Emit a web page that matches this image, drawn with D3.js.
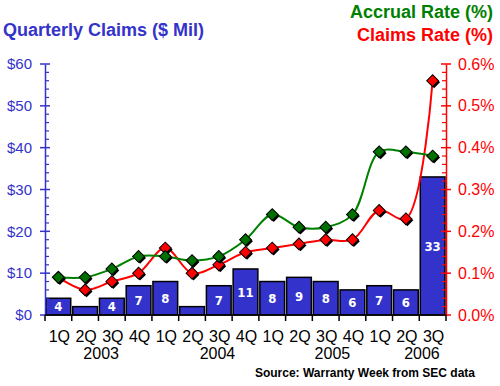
<!DOCTYPE html>
<html>
<head>
<meta charset="utf-8">
<script src="https://cdn.jsdelivr.net/npm/d3@7"></script>
<style>
  html, body { margin: 0; padding: 0; background: #fff; }
  svg { display: block; font-family: "Liberation Sans", Arial, sans-serif; }
</style>
</head>
<body>
<svg id="chart" width="500" height="386"></svg>
<script>
// quarterly data, 1Q 2003 .. 3Q 2006
const quarters = ['1Q', '2Q', '3Q', '4Q', '1Q', '2Q', '3Q', '4Q', '1Q', '2Q', '3Q', '4Q', '1Q', '2Q', '3Q'];
const years = ['2003', '2004', '2005', '2006'];
const claims = [4, 2, 4, 7, 8, 2, 7, 11, 8, 9, 8, 6, 7, 6, 33];          // $ mil
const accrualRate = [0.09, 0.09, 0.11, 0.14, 0.14, 0.13, 0.14, 0.18, 0.24, 0.21, 0.21, 0.24, 0.39, 0.39, 0.38]; // %
const claimsRate = [0.09, 0.06, 0.08, 0.10, 0.16, 0.10, 0.12, 0.15, 0.16, 0.17, 0.18, 0.18, 0.25, 0.23, 0.56];  // %
const dollarTicks = [0, 10, 20, 30, 40, 50, 60];
const pctTicks = [0, 0.1, 0.2, 0.3, 0.4, 0.5, 0.6];

const BLUE = '#3333cc', GREEN = '#008000', RED = '#ff0000';
const plot = { left: 45, right: 446, top: 64, bottom: 315 };
// where the year captions sit, in category units from the left edge
const yearSlots = [2.1, 6.45, 10.75, 14.1];

const svg = d3.select('#chart');
const idx = d3.range(quarters.length);

const x = d3.scaleBand().domain(idx).range([plot.left, plot.right]).padding(0);
const xPos = d3.scaleLinear().domain([0, quarters.length]).range([plot.left, plot.right]);
const yL = d3.scaleLinear().domain([0, 60]).range([plot.bottom, plot.top]);
const yR = d3.scaleLinear().domain([0, 0.6]).range([plot.bottom, plot.top]);
const cx = i => x(i) + x.bandwidth() / 2;

// titles
svg.append('text').attr('x', 3).attr('y', 36)
  .attr('font-size', 18).attr('font-weight', 'bold').attr('fill', BLUE)
  .text('Quarterly Claims ($ Mil)');
svg.append('text').attr('x', 493).attr('y', 18).attr('text-anchor', 'end')
  .attr('font-size', 18).attr('font-weight', 'bold').attr('fill', GREEN)
  .text('Accrual Rate (%)');
svg.append('text').attr('x', 493).attr('y', 41).attr('text-anchor', 'end')
  .attr('font-size', 18).attr('font-weight', 'bold').attr('fill', RED)
  .text('Claims Rate (%)');

// bars
const bars = svg.append('g');
bars.selectAll('rect').data(claims).join('rect')
  .attr('x', (d, i) => x(i) + 1)
  .attr('width', x.bandwidth() - 2)
  .attr('y', d => yL(d))
  .attr('height', d => yL(0) - yL(d))
  .attr('fill', BLUE)
  .attr('stroke', '#000')
  .attr('stroke-width', 1.5);

// the two tiny bars carry no value label
const labelled = claims.map((v, i) => ({ v, i })).filter(d => d.v > 3);
bars.selectAll('text').data(labelled).join('text')
  .attr('x', d => cx(d.i))
  .attr('y', d => (yL(d.v) + yL(0)) / 2)
  .attr('dy', '0.36em')
  .attr('text-anchor', 'middle')
  .attr('font-family', '"Liberation Sans Narrow", "Arial Narrow", "DejaVu Sans Condensed", sans-serif')
  .attr('font-size', 13).attr('font-weight', 'bold').attr('fill', '#fff')
  .text(d => d.v);

// left axis
const leftAxis = svg.append('g').attr('transform', `translate(${plot.left},0)`);
leftAxis.call(d3.axisLeft(yL).tickValues(dollarTicks).tickSize(0).tickFormat(d => '$' + d))
  .call(g => g.select('.domain').attr('stroke', BLUE).attr('stroke-width', 1.5))
  .call(g => g.selectAll('.tick text').attr('x', -13).attr('fill', BLUE)
    .attr('font-size', 15).attr('font-family', '"Liberation Sans", Arial, sans-serif'));
leftAxis.selectAll('.major').data(dollarTicks).join('line')
  .attr('x1', -5).attr('x2', 5).attr('y1', d => yL(d)).attr('y2', d => yL(d))
  .attr('stroke', BLUE).attr('stroke-width', 1.5);
leftAxis.selectAll('.minor').data(d3.range(0, 60, 2).filter(v => v % 10)).join('line')
  .attr('x1', 0).attr('x2', 4).attr('y1', d => yL(d)).attr('y2', d => yL(d))
  .attr('stroke', BLUE).attr('stroke-width', 1.2);

// right axis
const rightAxis = svg.append('g').attr('transform', `translate(${plot.right},0)`);
rightAxis.call(d3.axisRight(yR).tickValues(pctTicks).tickSize(0).tickFormat(d => d3.format('.1f')(d) + '%'))
  .call(g => g.select('.domain').attr('stroke', RED).attr('stroke-width', 1.5))
  .call(g => g.selectAll('.tick text').attr('x', 12).attr('fill', RED)
    .attr('font-size', 16).attr('font-family', '"Liberation Sans", Arial, sans-serif'));
rightAxis.selectAll('.major').data(pctTicks).join('line')
  .attr('x1', -5).attr('x2', 5).attr('y1', d => yR(d)).attr('y2', d => yR(d))
  .attr('stroke', RED).attr('stroke-width', 1.5);
rightAxis.selectAll('.minor').data(d3.range(0, 60, 2).filter(v => v % 10).map(v => v / 100)).join('line')
  .attr('x1', -4).attr('x2', 0).attr('y1', d => yR(d)).attr('y2', d => yR(d))
  .attr('stroke', RED).attr('stroke-width', 1.2);

// bottom axis
const bottom = svg.append('g');
bottom.append('line')
  .attr('x1', plot.left).attr('x2', plot.right).attr('y1', yL(0)).attr('y2', yL(0))
  .attr('stroke', '#000').attr('stroke-width', 1.5);
bottom.selectAll('.tick').data(d3.range(quarters.length + 1)).join('line')
  .attr('x1', d => xPos(d)).attr('x2', d => xPos(d))
  .attr('y1', yL(0)).attr('y2', yL(0) + 6)
  .attr('stroke', '#000').attr('stroke-width', 1.5);
bottom.selectAll('.q').data(quarters).join('text')
  .attr('x', (d, i) => cx(i) + 1)
  .attr('y', 342)
  .attr('text-anchor', 'middle').attr('font-size', 16).attr('fill', '#000')
  .text(d => d);
bottom.selectAll('.yr').data(years).join('text')
  .attr('x', (d, i) => xPos(yearSlots[i]))
  .attr('y', 359)
  .attr('text-anchor', 'middle').attr('font-size', 16).attr('fill', '#000')
  .text(d => d);

svg.append('text').attr('x', 475).attr('y', 377).attr('text-anchor', 'end')
  .attr('font-size', 12).attr('font-weight', 'bold').attr('fill', '#000')
  .text('Source: Warranty Week from SEC data');

// rate lines
const diamond = d3.symbol(d3.symbolSquare, 70);
function series(values, color, fill) {
  const g = svg.append('g');
  const line = d3.line()
    .x((d, i) => cx(i))
    .y(d => yR(d))
    .curve(d3.curveCatmullRom.alpha(0.5));
  g.append('path').datum(values)
    .attr('d', line).attr('fill', 'none')
    .attr('stroke', color).attr('stroke-width', 2);
  g.selectAll('.shadow').data(values).join('path')
    .attr('d', diamond)
    .attr('transform', (d, i) => `translate(${cx(i) + 1.5},${yR(d) + 1.5}) rotate(45)`)
    .attr('fill', '#000');
  g.selectAll('.mark').data(values).join('path')
    .attr('d', diamond)
    .attr('transform', (d, i) => `translate(${cx(i)},${yR(d)}) rotate(45)`)
    .attr('fill', fill).attr('stroke', '#000').attr('stroke-width', 1);
}
series(claimsRate, RED, '#ff0000');
series(accrualRate, GREEN, '#007000');
</script>
</body>
</html>
